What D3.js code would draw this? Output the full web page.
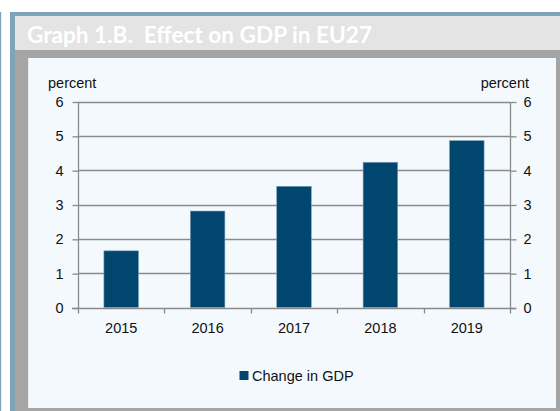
<!DOCTYPE html>
<html><head><meta charset="utf-8">
<script src="https://cdn.jsdelivr.net/npm/d3@7"></script>
<style>html,body{margin:0;padding:0;background:#fff;}svg{display:block;}</style>
</head><body>
<svg id="c" width="560" height="411"></svg>
<script>
const title = "Graph 1.B.  Effect on GDP in EU27";
const categories = ["2015", "2016", "2017", "2018", "2019"];
const gdpChange = [1.65, 2.81, 3.53, 4.23, 4.86];
const yTicks = [0, 1, 2, 3, 4, 5, 6];
const axisLabel = "percent";
const seriesName = "Change in GDP";

const svg = d3.select("#c");
const font = "'Liberation Sans', Arial, sans-serif";
const barColor = "#00466e";
const gridColor = "#8a8a8a";

// frame
svg.append("rect").attr("x",0).attr("y",12).attr("width",1.2).attr("height",399).attr("fill","#7fa3b8");
svg.append("rect").attr("x",10).attr("y",12).attr("width",550).attr("height",4).attr("fill","#7fa3b8");
svg.append("rect").attr("x",10).attr("y",12).attr("width",5).attr("height",399).attr("fill","#7fa3b8");
svg.append("rect").attr("x",15).attr("y",16).attr("width",545).attr("height",34).attr("fill","#e4e4e4");
svg.append("rect").attr("x",15).attr("y",50).attr("width",545).attr("height",361).attr("fill","#a5a5a5");
svg.append("rect").attr("x",28).attr("y",58).attr("width",528).attr("height",350).attr("fill","#f4f9fe");
svg.append("rect").attr("x",28).attr("y",58).attr("width",1).attr("height",350).attr("fill","#e6ebef");

const t = svg.append("text").attr("x",27).attr("y",43).attr("fill","#ffffff")
  .attr("font-family","Lato, 'Open Sans', sans-serif").attr("font-weight","bold")
  .attr("font-size",22.5).style("white-space","pre").attr("xml:space","preserve").text(title);
const tl = t.node().getComputedTextLength();
if (tl > 0) t.attr("textLength", 345).attr("lengthAdjust","spacingAndGlyphs");

const x0 = 78, x1 = 510, yTop = 101.5, yBot = 307.5;
const x = d3.scaleBand().domain(categories).range([x0, x1]).paddingInner(0.6).paddingOuter(0.3);
const xc = d3.scaleBand().domain(categories).range([x0, x1]).padding(0);
const y = d3.scaleLinear().domain([0, 6]).range([yBot, yTop]);

const g = svg.append("g");
// gridlines
g.selectAll(".grid").data(yTicks.filter(d=>d>0)).enter().append("line")
  .attr("x1",x0).attr("x2",x1).attr("y1",d=>Math.round(y(d))+0.5).attr("y2",d=>Math.round(y(d))+0.5)
  .attr("stroke",gridColor).attr("stroke-width",1.3);

// bars
g.selectAll(".bar").data(gdpChange).enter().append("rect")
  .attr("x",(d,i)=>x(categories[i])).attr("width",x.bandwidth())
  .attr("y",d=>y(d)).attr("height",d=>y(0)-y(d))
  .attr("fill",barColor).attr("stroke","#7d9fb8").attr("stroke-width",0.6);

// left axis
const yAxisL = d3.axisLeft(y).tickValues(yTicks).tickSize(6).tickPadding(9).tickFormat(d3.format("d"));
const gl = svg.append("g").attr("transform",`translate(${x0+0.5},0.5)`).call(yAxisL);
const yAxisR = d3.axisRight(y).tickValues(yTicks).tickSize(6).tickPadding(7).tickFormat(d3.format("d"));
const gr = svg.append("g").attr("transform",`translate(${x1+0.5},0.5)`).call(yAxisR);
[gl, gr].forEach(a => {
  a.select(".domain").attr("stroke",gridColor).attr("stroke-width",1.3).attr("d", `M0,${yTop}V${yBot}`);
  a.selectAll(".tick line").attr("stroke",gridColor).attr("stroke-width",1.3);
  a.selectAll(".tick text").attr("font-family",font).attr("font-size",14.5).attr("fill","#111");
});

// x axis
const xAxis = d3.axisBottom(xc).tickSize(0).tickPadding(14);
const gx = svg.append("g").attr("transform",`translate(0,${Math.round(yBot)+0.5})`).call(xAxis);
gx.select(".domain").attr("stroke",gridColor).attr("stroke-width",1.3).attr("d",`M${x0-6},0H${x1+6}`);
gx.selectAll(".tick text").attr("font-family",font).attr("font-size",14.5).attr("fill","#111");
// category boundary ticks
const bounds = categories.map(c=>xc(c)).concat([x1]);
gx.selectAll(".btick").data(bounds).enter().append("line")
  .attr("x1",d=>Math.round(d)+0.5).attr("x2",d=>Math.round(d)+0.5).attr("y1",0).attr("y2",5)
  .attr("stroke",gridColor).attr("stroke-width",1.3);

// axis titles
svg.append("text").attr("x",48).attr("y",88).attr("font-family",font).attr("font-size",14.5).attr("fill","#111").text(axisLabel);
svg.append("text").attr("x",529).attr("y",88).attr("text-anchor","end").attr("font-family",font).attr("font-size",14.5).attr("fill","#111").text(axisLabel);

// legend
svg.append("rect").attr("x",239.5).attr("y",371).attr("width",9).attr("height",9).attr("fill",barColor);
svg.append("text").attr("x",252).attr("y",381).attr("font-family",font).attr("font-size",14.5).attr("fill","#111").text(seriesName);
</script>
</body></html>
